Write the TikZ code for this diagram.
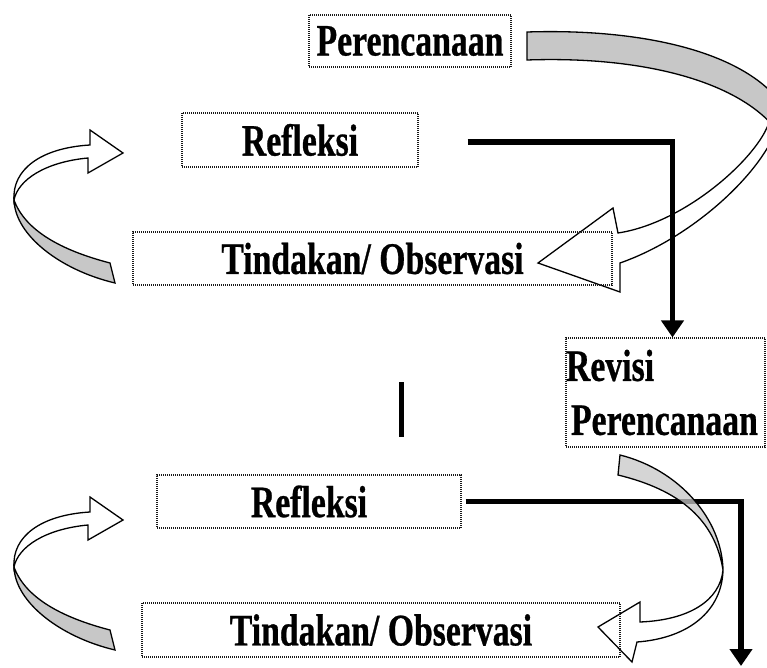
\documentclass[tikz,border=0pt]{standalone}
\usepackage{fontspec}
\setmainfont{Liberation Serif}
\newfontfamily\lblfont{Liberation Serif}[FakeStretch=0.75, BoldFeatures={FakeBold=0.6}]
\usetikzlibrary{arrows.meta}
\tikzset{
  box/.style={draw=black!90, line width=1.1pt, dash pattern=on 1pt off 1pt,
    inner sep=0pt, font=\lblfont\bfseries\fontsize{45}{54}\selectfont},
  flow/.style={line width=5.5pt, -{Triangle[length=17pt,width=22pt]}},
  ribbongray/.style={fill=black!22, draw=black, line width=1.3pt},
  ribbonwhite/.style={fill=white, draw=black, line width=1.3pt},
  leftcurl/.pic={
    \draw[ribbonwhite] (14,200) .. controls (12,170) and (40,148) .. (90,145)
      -- (90,130) -- (123,153) -- (88,173) -- (88,158)
      .. controls (45,162) and (18,180) .. (14,200) -- cycle;
    \draw[ribbongray] (110,263) .. controls (60,250) and (25,230) .. (14,200)
      .. controls (15,235) and (60,270) .. (115,283) -- cycle;
  }
}
\begin{document}
\begin{tikzpicture}[x=1pt,y=-1pt]
\useasboundingbox (0,0) rectangle (767,668);
\clip (0,0) rectangle (767,668);
% ribbons (top right)
\draw[ribbonwhite] (770,118) .. controls (765,150) and (690,222) .. (618,233)
  -- (613,208) -- (538,263) -- (620,292) -- (620,263)
  .. controls (700,235) and (775,160) .. (780,115) -- cycle;
\draw[ribbongray] (527,32) .. controls (650,28) and (760,55) .. (790,118)
  -- (775,128) .. controls (735,80) and (640,56) .. (527,60) -- cycle;
% left curls
\pic at (0,0) {leftcurl};
\pic at (0,367) {leftcurl};
% bottom right ribbon (white part)
\draw[ribbonwhite] (723,570) .. controls (720,600) and (690,620) .. (640,622)
  -- (640,602) -- (598,627) -- (632,662) -- (637,642)
  .. controls (690,638) and (722,610) .. (723,570) -- cycle;
% boxes
\node[box, minimum width=202pt, minimum height=52pt] (plan) at (410,41) {Perencanaan};
\node[box, minimum width=236pt, minimum height=54pt] (ref1) at (300,140) {Refleksi};
\node[box, minimum width=479pt, minimum height=53pt] (tin1) at (372.5,258.5) {Tindakan/ Observasi};
\node[box, minimum height=109pt, text width=199pt, align=left] (rev) at (665.5,392.5)
  {Revisi\\\hspace*{5pt}Perencanaan};
\node[box, minimum width=304pt, minimum height=53pt] (ref2) at (309,501.5) {Refleksi};
\node[box, minimum width=478pt, minimum height=54pt] (tin2) at (381,630) {Tindakan/ Observasi};
% connectors
\coordinate (s1) at ([xshift=49pt,yshift=-2pt]ref1.east);
\draw[flow] (s1) -| ([xshift=7pt]rev.north);
\coordinate (s2) at ([xshift=4pt]ref2.east);
\coordinate (e2) at (741,666);
\draw[flow] (s2) -| (e2);
\draw[line width=4.8pt] (401.5,382) -- (401.5,437);
% bottom right ribbon (grey part, over the connector)
\draw[ribbongray, fill opacity=0.75] (620,455) .. controls (680,470) and (722,520) .. (723,570)
  .. controls (715,520) and (680,490) .. (618,475) -- cycle;
\end{tikzpicture}
\end{document}
